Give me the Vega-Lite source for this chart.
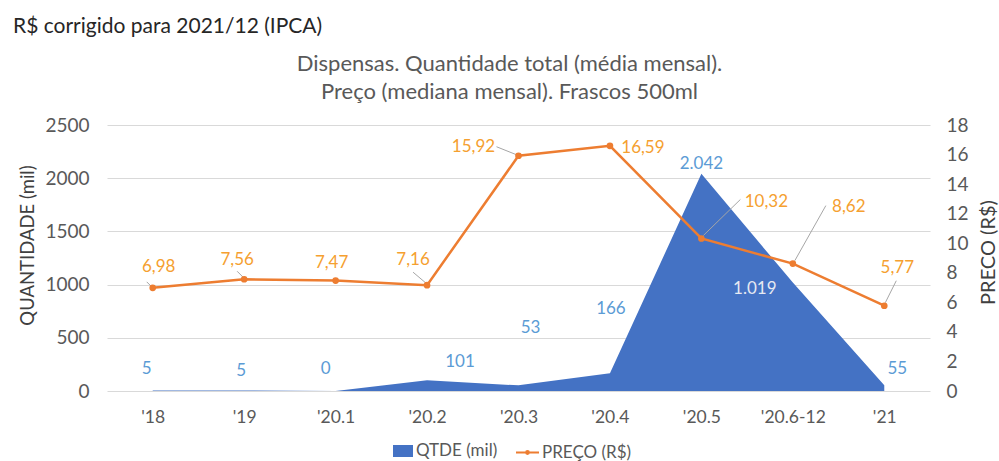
{
  "$schema": "https://vega.github.io/schema/vega-lite/v6.json",
  "width": 823,
  "height": 266,
  "autosize": {"type": "none"},
  "padding": {"left": 107, "top": 125, "right": 69, "bottom": 70},
  "background": "white",
  "config": {
    "view": {"stroke": null},
    "font": "Lato",
    "locale": {"number": {"decimal": ",", "thousands": ".", "grouping": [3], "currency": ["R$", ""]}}
  },
  "title": {
    "text": "R$ corrigido para 2021/12 (IPCA)",
    "anchor": "start",
    "frame": "group",
    "dx": -94,
    "offset": 15,
    "fontSize": 21,
    "fontWeight": "normal",
    "color": "#262626",
    "font": "Lato"
  },
  "data": {
    "values": [
      {"periodo": "'18", "qtde": 5, "preco": 6.98},
      {"periodo": "'19", "qtde": 5, "preco": 7.56},
      {"periodo": "'20.1", "qtde": 0, "preco": 7.47},
      {"periodo": "'20.2", "qtde": 101, "preco": 7.16},
      {"periodo": "'20.3", "qtde": 53, "preco": 15.92},
      {"periodo": "'20.4", "qtde": 166, "preco": 16.59},
      {"periodo": "'20.5", "qtde": 2042, "preco": 10.32},
      {"periodo": "'20.6-12", "qtde": 1019, "preco": 8.62},
      {"periodo": "'21", "qtde": 55, "preco": 5.77}
    ]
  },
  "layer": [
    {
      "mark": {"type": "area", "interpolate": "linear", "opacity": 1},
      "encoding": {
        "x": {
          "field": "periodo", "type": "ordinal", "sort": null,
          "scale": {"type": "point", "padding": 0.5},
          "axis": {
            "orient": "bottom", "title": null, "domain": false, "ticks": false, "grid": false,
            "labelAngle": 0, "labelFontSize": 17.5, "labelColor": "#595959", "labelPadding": 17, "labelFont": "Lato"
          }
        },
        "y": {
          "field": "qtde", "type": "quantitative",
          "scale": {"domain": [0, 2500]},
          "axis": {
            "orient": "left",
            "values": [0, 500, 1000, 1500, 2000, 2500], "format": "d",
            "title": "QUANTIDADE (mil)", "titleFontSize": 18.5, "titleFontWeight": "normal", "titleColor": "#404040", "titleFont": "Lato",
            "titleAngle": 270, "titleX": -80, "titleY": 120, "titleAlign": "center", "titleBaseline": "middle",
            "grid": true, "gridColor": "#D9D9D9", "gridWidth": 1, "domain": false, "ticks": false,
            "labelFontSize": 19, "labelColor": "#595959", "labelPadding": 18, "labelFont": "Lato"
          }
        },
        "fill": {
          "datum": "QTDE (mil)",
          "scale": {"domain": ["QTDE (mil)"], "range": ["#4472C4"]},
          "legend": {
            "title": null, "orient": "none", "direction": "horizontal",
            "legendX": 285, "legendY": 315,
            "labelFontSize": 17, "labelColor": "#595959", "labelFont": "Lato", "labelOffset": 2,
            "symbolType": "M-1,-0.6H1V0.6H-1Z", "symbolSize": 400, "symbolOpacity": 1
          }
        }
      }
    },
    {
      "mark": {
        "type": "text", "fontSize": 17, "font": "Lato", "align": "center", "baseline": "middle",
        "color": {"expr": "datum.periodo === \"'20.6-12\" ? '#E6E9F2' : '#5B9BD5'"},
        "dx": {"expr": "[-6,-3,-10,33,12,1,0,-38,13][indexof([\"'18\",\"'19\",\"'20.1\",\"'20.2\",\"'20.3\",\"'20.4\",\"'20.5\",\"'20.6-12\",\"'21\"], datum.periodo)]"},
        "dy": {"expr": "[-21,-19,-22,-18,-57,-64,-10,6,-16][indexof([\"'18\",\"'19\",\"'20.1\",\"'20.2\",\"'20.3\",\"'20.4\",\"'20.5\",\"'20.6-12\",\"'21\"], datum.periodo)]"}
      },
      "encoding": {
        "x": {"field": "periodo", "type": "ordinal", "sort": null, "scale": {"type": "point", "padding": 0.5}, "axis": null},
        "y": {"field": "qtde", "type": "quantitative", "scale": {"domain": [0, 2500]}, "axis": null},
        "text": {"field": "qtde", "type": "quantitative", "format": ",d"}
      }
    },
    {
      "mark": {
        "type": "rule", "color": "#A6A6A6", "strokeWidth": 1,
        "xOffset": {"expr": "[-1,-1,0,-1,-2,0,2,2,1][indexof([\"'18\",\"'19\",\"'20.1\",\"'20.2\",\"'20.3\",\"'20.4\",\"'20.5\",\"'20.6-12\",\"'21\"], datum.periodo)]"},
        "yOffset": {"expr": "[-1,-2,0,-2,-1,0,-3,-3,-3][indexof([\"'18\",\"'19\",\"'20.1\",\"'20.2\",\"'20.3\",\"'20.4\",\"'20.5\",\"'20.6-12\",\"'21\"], datum.periodo)]"},
        "x2Offset": {"expr": "[-6,-7,0,-14,-22,0,39,33,12][indexof([\"'18\",\"'19\",\"'20.1\",\"'20.2\",\"'20.3\",\"'20.4\",\"'20.5\",\"'20.6-12\",\"'21\"], datum.periodo)]"},
        "y2Offset": {"expr": "[-6,-8,0,-13,-9,0,-39,-58,-25][indexof([\"'18\",\"'19\",\"'20.1\",\"'20.2\",\"'20.3\",\"'20.4\",\"'20.5\",\"'20.6-12\",\"'21\"], datum.periodo)]"}
      },
      "encoding": {
        "x": {"field": "periodo", "type": "ordinal", "sort": null, "scale": {"type": "point", "padding": 0.5}, "axis": null},
        "x2": {"field": "periodo"},
        "y": {"field": "preco", "type": "quantitative", "scale": {"domain": [0, 18]}, "axis": null},
        "y2": {"field": "preco"}
      }
    },
    {
      "mark": {"type": "line", "strokeWidth": 2.5, "point": {"filled": true, "fill": "#ED7D31", "color": "#ED7D31", "size": 22}},
      "encoding": {
        "x": {
          "field": "periodo", "type": "ordinal", "sort": null,
          "scale": {"type": "point", "padding": 0.5},
          "axis": {
            "orient": "top", "labels": false, "ticks": false, "domain": false, "grid": false,
            "title": ["Dispensas. Quantidade total (média mensal).", "Preço (mediana mensal). Frascos 500ml"],
            "titleFontSize": 22, "titleFontWeight": "normal", "titleColor": "#595959", "titleFont": "Lato",
            "titleLineHeight": 28, "titleAnchor": "middle", "titleAlign": "center", "titleBaseline": "top",
            "titleX": 402, "titleY": -72
          }
        },
        "y": {
          "field": "preco", "type": "quantitative",
          "scale": {"domain": [0, 18]},
          "axis": {
            "orient": "right", "values": [0, 2, 4, 6, 8, 10, 12, 14, 16, 18], "format": "d",
            "title": "PRECO (R$)", "titleFontSize": 20, "titleFontWeight": "normal", "titleColor": "#404040", "titleFont": "Lato",
            "titleAngle": 270, "titleX": 58, "titleY": 127, "titleAlign": "center", "titleBaseline": "middle",
            "grid": false, "domain": false, "ticks": false,
            "labelFontSize": 19, "labelColor": "#595959", "labelPadding": 16, "labelFont": "Lato"
          }
        },
        "stroke": {
          "datum": "PREÇO (R$)",
          "scale": {"domain": ["PREÇO (R$)"], "range": ["#ED7D31"]},
          "legend": {
            "title": null, "orient": "none", "direction": "horizontal",
            "legendX": 408, "legendY": 315,
            "labelFontSize": 17, "labelColor": "#595959", "labelFont": "Lato", "labelOffset": 2,
            "symbolType": "M-1,0H1M-0.12,0A0.12,0.12,0,1,1,0.12,0A0.12,0.12,0,1,1,-0.12,0Z",
            "symbolSize": 529, "symbolStrokeWidth": 2, "symbolOpacity": 1
          }
        }
      }
    },
    {
      "mark": {
        "type": "text", "fontSize": 17, "font": "Lato", "align": "center", "baseline": "middle", "color": "#F5A030",
        "dx": {"expr": "[6,-7,-4,-14,-45,33,65,56,13][indexof([\"'18\",\"'19\",\"'20.1\",\"'20.2\",\"'20.3\",\"'20.4\",\"'20.5\",\"'20.6-12\",\"'21\"], datum.periodo)]"},
        "dy": {"expr": "[-21,-19,-18,-25,-9,2,-36,-57,-38][indexof([\"'18\",\"'19\",\"'20.1\",\"'20.2\",\"'20.3\",\"'20.4\",\"'20.5\",\"'20.6-12\",\"'21\"], datum.periodo)]"}
      },
      "encoding": {
        "x": {"field": "periodo", "type": "ordinal", "sort": null, "scale": {"type": "point", "padding": 0.5}, "axis": null},
        "y": {"field": "preco", "type": "quantitative", "scale": {"domain": [0, 18]}, "axis": null},
        "text": {"field": "preco", "type": "quantitative", "format": ".2f"}
      }
    }
  ],
  "resolve": {"scale": {"y": "independent"}, "axis": {"x": "independent"}}
}
